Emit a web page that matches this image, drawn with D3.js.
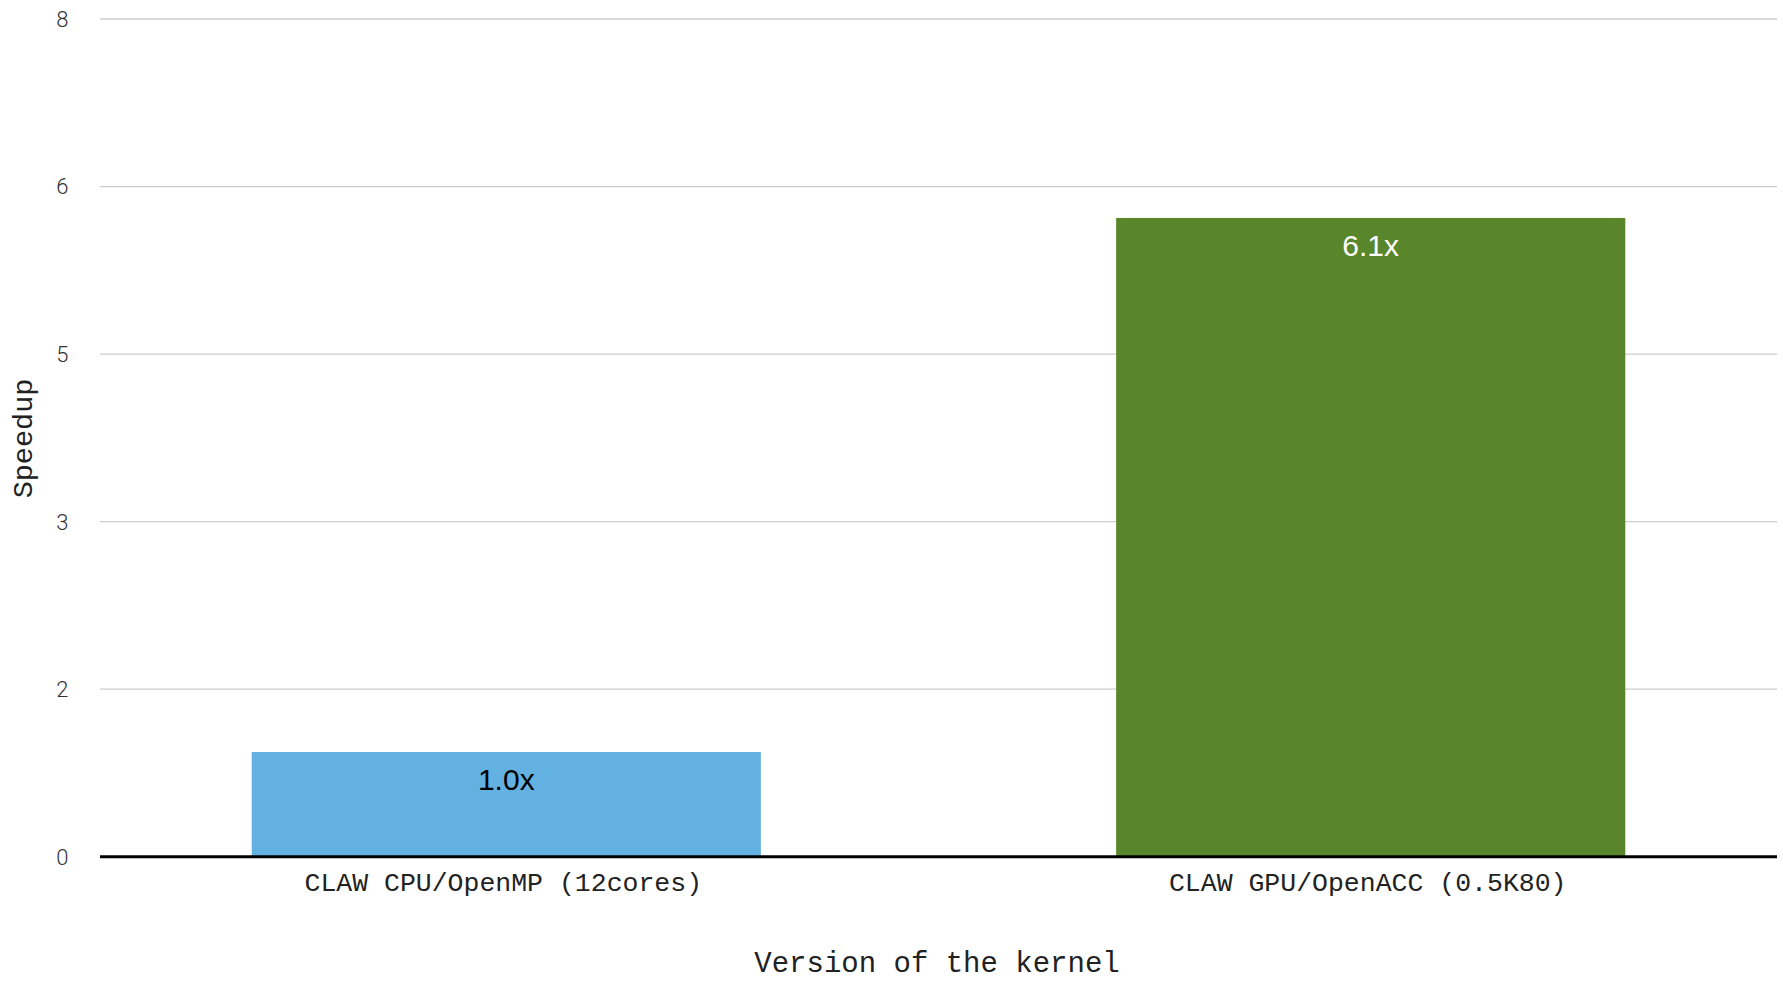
<!DOCTYPE html>
<html>
<head>
<meta charset="utf-8">
<script src="https://cdn.jsdelivr.net/npm/d3@7"></script>
<style>
  html, body { margin: 0; padding: 0; background: #fff; }
  svg { display: block; }
</style>
</head>
<body>
<svg id="chart" width="1783" height="981"></svg>
<script>
// Kernel versions and their measured speedup
const categories = ["CLAW CPU/OpenMP (12cores)", "CLAW GPU/OpenACC (0.5K80)"];
const speedup = [1.0, 6.1];
const valueLabels = ["1.0x", "6.1x"];
const barColors = ["#63b1e0", "#59862a"];
const labelColors = ["#000000", "#ffffff"];

// Y axis gridline positions and the rounded text shown for them
const yTickValues = [0, 1.6, 3.2, 4.8, 6.4, 8];
const yTickLabels = ["0", "2", "3", "5", "6", "8"];

const xTitle = "Version of the kernel";
const yTitle = "Speedup";

const svg = d3.select("#chart");
const plot = { left: 100, right: 1777, top: 19, bottom: 856.7 };

const x = d3.scaleBand()
  .domain(categories)
  .range([plot.left, plot.right])
  .paddingInner(0.411)
  .paddingOuter(0.1755);

const y = d3.scaleLinear()
  .domain([0, 8])
  .range([plot.bottom, plot.top]);

const mono = "'Courier New', 'Liberation Mono', monospace";

// Horizontal gridlines
svg.append("g")
  .selectAll("line")
  .data(yTickValues.filter(v => v !== 0))
  .join("line")
  .attr("x1", plot.left)
  .attr("x2", plot.right)
  .attr("y1", d => y(d))
  .attr("y2", d => y(d))
  .attr("stroke", "#cdcdcd")
  .attr("stroke-width", 1.3);

// Y tick labels
svg.append("g")
  .selectAll("text")
  .data(yTickValues)
  .join("text")
  .attr("x", 68.5)
  .attr("y", d => y(d))
  .attr("dy", "0.36em")
  .attr("text-anchor", "end")
  .attr("font-family", "Roboto, 'Open Sans', sans-serif")
  .attr("font-weight", 300)
  .attr("font-size", 22)
  .attr("fill", "#333")
  .text((d, i) => yTickLabels[i]);

// Bars
svg.append("g")
  .selectAll("rect")
  .data(speedup)
  .join("rect")
  .attr("x", (d, i) => x(categories[i]))
  .attr("width", x.bandwidth())
  .attr("y", d => y(d))
  .attr("height", d => y(0) - y(d))
  .attr("fill", (d, i) => barColors[i]);

// Value labels inside the bars
svg.append("g")
  .selectAll("text")
  .data(speedup)
  .join("text")
  .attr("x", (d, i) => x(categories[i]) + x.bandwidth() / 2)
  .attr("y", d => y(d) + 38)
  .attr("text-anchor", "middle")
  .attr("font-family", "'Liberation Sans', Arial, sans-serif")
  .attr("font-size", 30)
  .attr("fill", (d, i) => labelColors[i])
  .text((d, i) => valueLabels[i]);

// Baseline
svg.append("line")
  .attr("x1", plot.left)
  .attr("x2", plot.right)
  .attr("y1", y(0))
  .attr("y2", y(0))
  .attr("stroke", "#000")
  .attr("stroke-width", 3);

// Category labels
svg.append("g")
  .selectAll("text")
  .data(categories)
  .join("text")
  .attr("x", d => x(d) + x.bandwidth() / 2 - 3)
  .attr("y", 882)
  .attr("dy", "0.35em")
  .attr("text-anchor", "middle")
  .attr("font-family", mono)
  .attr("font-size", 26.5)
  .attr("fill", "#222")
  .text(d => d);

// Axis titles
svg.append("text")
  .attr("x", 937)
  .attr("y", 962)
  .attr("dy", "0.35em")
  .attr("text-anchor", "middle")
  .attr("font-family", mono)
  .attr("font-size", 29)
  .attr("fill", "#222")
  .text(xTitle);

svg.append("text")
  .attr("transform", "translate(22,438.5) rotate(-90)")
  .attr("dy", "0.35em")
  .attr("text-anchor", "middle")
  .attr("font-family", mono)
  .attr("font-size", 28.5)
  .attr("fill", "#222")
  .text(yTitle);
</script>
</body>
</html>
